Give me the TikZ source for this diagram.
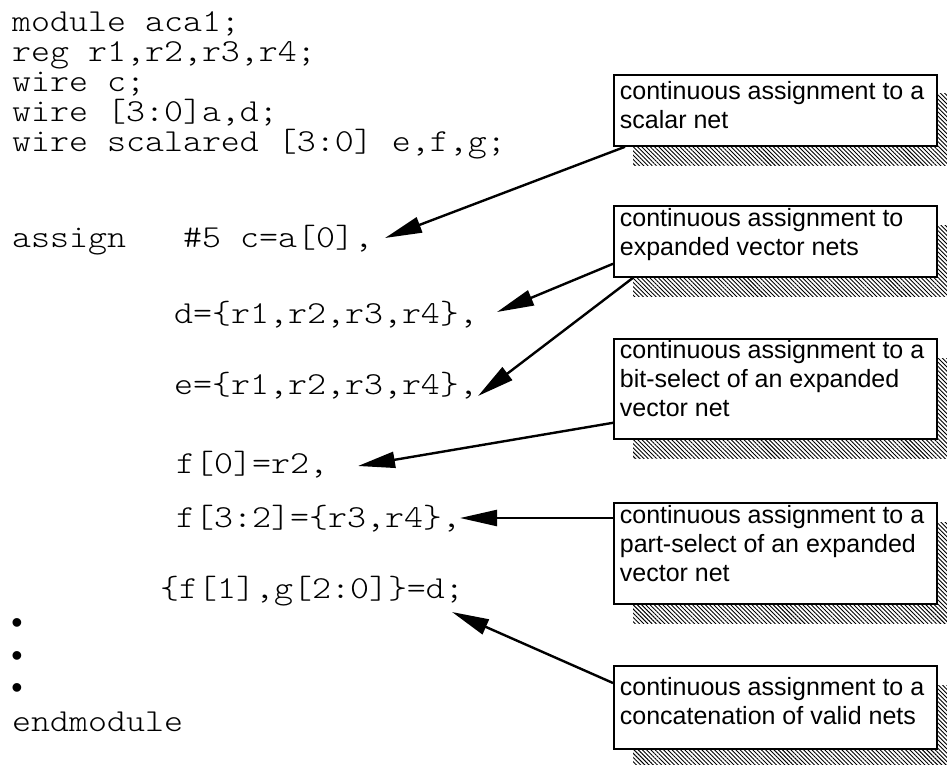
\documentclass[tikz,border=0pt]{standalone}
\usepackage{fontspec}
\setmainfont{Liberation Sans}
\newfontfamily\codefont[FakeStretch=1.13]{Latin Modern Mono Light}
\usetikzlibrary{arrows.meta,patterns.meta,calc}

% text block inside a callout: height, first-baseline offset, lines
\newcommand\calloutbody[3]{\parbox[c][#1][t]{311pt}{\raggedright\rule{0pt}{#2}#3}}

\begin{document}
\begin{tikzpicture}[x=1pt,y=-1pt,
  code/.style={anchor=base west, inner sep=0pt, font=\codefont\fontsize{32}{30}\selectfont},
  dot/.style={anchor=center, inner sep=0pt, font=\fontsize{32}{32}\selectfont},
  note/.style={draw, line width=1.8pt, fill=white, anchor=north west,
    inner xsep=6pt, inner ysep=0pt, font=\fontsize{25}{29}\selectfont},
  shadowfill/.style={pattern={Lines[angle=-45,distance=3pt,line width=0.9pt]}},
  callout/.style={line width=2.4pt, -{Triangle[length=37pt,width=16pt]}}]
\useasboundingbox (0,0) rectangle (947,765);

% --- Verilog listing: declarations ---
\node[code] (decl) at (12,32) {\parbox[t]{560pt}{\raggedright
  module aca1;\\
  reg r1,r2,r3,r4;\\
  wire c;\\
  wire [3:0]a,d;\\
  wire scalared [3:0] e,f,g;}};
% --- continuous assignment ---
\node[code] (l6a) at (12,247) {assign};
\node[code] (l6) at (183,247) {\#5 c=a[0],};
\node[code] (l7) at (174,323) {d=\{r1,r2,r3,r4\},};
\node[code] (l8) at (174,394) {e=\{r1,r2,r3,r4\},};
\node[code] (l9) at (176,473) {f[0]=r2,};
\node[code] (l10) at (176,527) {f[3:2]=\{r3,r4\},};
\node[code] (l11) at (160,598) {\{f[1],g[2:0]\}=d;};
\node[dot] (b1) at (17,626) {•};
\node[dot] (b2) at (17,659) {•};
\node[dot] (b3) at (17,691) {•};
\node[code] (l12) at (12,731) {endmodule};

% --- hatched drop shadows ---
\fill[shadowfill] (633,94) rectangle (958,165);
\fill[shadowfill] (633,225) rectangle (958,296);
\fill[shadowfill] (633,358) rectangle (958,458);
\fill[shadowfill] (633,522) rectangle (958,623);
\fill[shadowfill] (633,685) rectangle (958,768);

% --- callout boxes ---
\node[note] (box1) at (613,74) {\calloutbody{71pt}{25pt}{continuous assignment to a\\scalar net}};
\node[note] (box2) at (613,205) {\calloutbody{71pt}{21pt}{continuous assignment to\\expanded vector nets}};
\node[note] (box3) at (613,338) {\calloutbody{100pt}{20pt}{continuous assignment to a\\bit-select of an expanded\\vector net}};
\node[note] (box4) at (613,502) {\calloutbody{101pt}{21pt}{continuous assignment to a\\part-select of an expanded\\vector net}};
\node[note] (box5) at (613,665) {\calloutbody{83pt}{30pt}{continuous assignment to a\\concatenation of valid nets}};

% --- arrow targets beside the listing ---
\coordinate (t1) at (385,238);
\coordinate (t2) at (497,312);
\coordinate (t3) at (478,396);
\coordinate (t4) at (358,466);
\coordinate (t5) at (460,518);
\coordinate (t6) at (452,612);

\draw[callout] ($(box1.south west)+(12,0)$) -- (t1);
\draw[callout] ($(box2.south west)+(0,-14)$) -- (t2);
\draw[callout] ($(box2.south west)+(20,0)$) -- (t3);
\draw[callout] ($(box3.south west)+(0,-17)$) -- (t4);
\draw[callout] ($(box4.north west)+(0,16)$) -- (t5);
\draw[callout] ($(box5.north west)+(0,18)$) -- (t6);
\end{tikzpicture}
\end{document}
